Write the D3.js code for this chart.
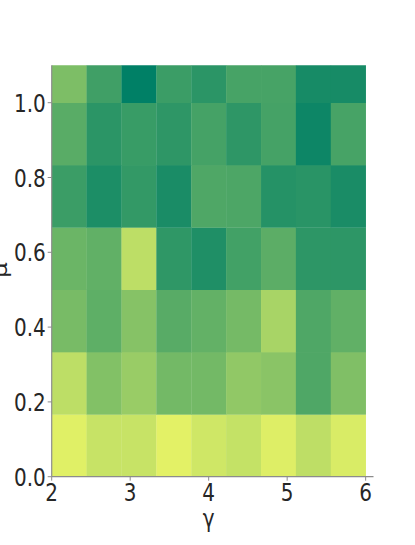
<!DOCTYPE html>
<html>
<head>
<meta charset="utf-8">
<script src="https://cdn.jsdelivr.net/npm/d3@7"></script>
<style>
  html, body { margin: 0; padding: 0; background: #fff; }
  svg { display: block; }
  text { font-family: "DejaVu Sans", sans-serif; fill: #262626; }
</style>
</head>
<body>
<script>
// gamma bin edges (9 columns over [2,6]) and mu bin edges (7 rows, top clipped at 1.1)
const gammaEdges = [2, 2.444, 2.889, 3.333, 3.778, 4.222, 4.667, 5.111, 5.556, 6];
const muEdges = [0, 1/6, 2/6, 3/6, 4/6, 5/6, 1, 7/6];
const xTicks = [2, 3, 4, 5, 6];
const yTicks = [0.0, 0.2, 0.4, 0.6, 0.8, 1.0];
const row0 = [0.88, 0.78, 0.78, 0.89, 0.81, 0.77, 0.87, 0.745, 0.85];
const row1 = [0.74, 0.51, 0.60, 0.45, 0.45, 0.57, 0.54, 0.31, 0.50];
const row2 = [0.47, 0.37, 0.525, 0.345, 0.39, 0.46, 0.66, 0.31, 0.38];
const row3 = [0.42, 0.38, 0.74, 0.185, 0.12, 0.26, 0.36, 0.175, 0.175];
const row4 = [0.23, 0.11, 0.20, 0.10, 0.31, 0.30, 0.145, 0.16, 0.10];
const row5 = [0.35, 0.17, 0.22, 0.18, 0.27, 0.18, 0.27, 0.05, 0.28];
const row6 = [0.49, 0.25, 0.0, 0.23, 0.17, 0.28, 0.28, 0.09, 0.09];
const rows = [row0, row1, row2, row3, row4, row5, row6];

const W = 415, H = 545;
const svg = d3.select("body").append("svg").attr("width", W).attr("height", H);

const x = d3.scaleLinear().domain([2, 6.1]).range([51.7, 373.5]);
const y = d3.scaleLinear().domain([0, 1.1]).range([476.7, 65.3]);
const summer = t => d3.rgb(255 * t, 127.5 + 127.5 * t, 102);
const color = d3.scaleSequential(summer).domain([0, 1]);

svg.append("clipPath").attr("id", "clip").append("rect")
  .attr("x", x(2)).attr("y", y(1.1))
  .attr("width", x(6.1) - x(2)).attr("height", y(0) - y(1.1));

const cells = [];
rows.forEach((r, i) => r.forEach((v, j) => cells.push({i, j, v})));

svg.append("g").attr("clip-path", "url(#clip)")
  .selectAll("rect").data(cells).join("rect")
  .attr("x", d => x(gammaEdges[d.j]))
  .attr("y", d => y(muEdges[d.i + 1]))
  .attr("width", d => x(gammaEdges[d.j + 1]) - x(gammaEdges[d.j]) + 0.3)
  .attr("height", d => y(muEdges[d.i]) - y(muEdges[d.i + 1]) + 0.3)
  .attr("fill", d => color(d.v));

const spine = "#8c8c8c";
// spines
svg.append("line").attr("x1", x(2)).attr("x2", x(2)).attr("y1", y(0)).attr("y2", y(1.1))
  .attr("stroke", spine).attr("stroke-width", 1.2);
svg.append("line").attr("x1", x(2)).attr("x2", x(6.1)).attr("y1", y(0)).attr("y2", y(0))
  .attr("stroke", spine).attr("stroke-width", 1.2);

// x ticks
const xg = svg.append("g");
xTicks.forEach(t => {
  xg.append("line").attr("x1", x(t)).attr("x2", x(t)).attr("y1", y(0)).attr("y2", y(0) + 4)
    .attr("stroke", spine).attr("stroke-width", 1);
  xg.append("text").attr("transform", `translate(${x(t)},${500.5}) scale(0.8,1)`)
    .attr("text-anchor", "middle").attr("font-size", 25).text(d3.format("d")(t));
});
// y ticks
const yg = svg.append("g");
yTicks.forEach(t => {
  yg.append("line").attr("x1", x(2) - 4).attr("x2", x(2)).attr("y1", y(t)).attr("y2", y(t))
    .attr("stroke", spine).attr("stroke-width", 1);
  yg.append("text").attr("transform", `translate(${45.7},${y(t) + 9}) scale(0.8,1)`)
    .attr("text-anchor", "end").attr("font-size", 25).text(d3.format(".1f")(t));
});

// axis labels
svg.append("text").attr("transform", `translate(${x(4)},527) scale(0.8,1)`)
  .attr("text-anchor", "middle").attr("font-size", 25).text("γ");
svg.append("text").attr("transform", `translate(7,270) rotate(-90) scale(1,0.8)`)
  .attr("text-anchor", "middle").attr("font-size", 25).text("μ");
</script>
</body>
</html>
